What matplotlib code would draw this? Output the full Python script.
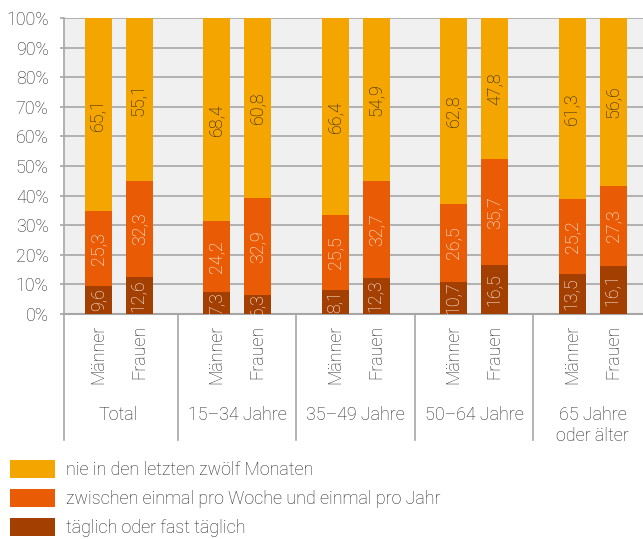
import matplotlib
matplotlib.use('Agg')
import matplotlib.pyplot as plt
from matplotlib.patches import Patch
import numpy as np

# Data (percent)
groups = ['Total', '15–34 Jahre', '35–49 Jahre', '50–64 Jahre', '65 Jahre\noder älter']
sexes = ['Männer', 'Frauen']
series = ['täglich oder fast täglich',
          'zwischen einmal pro Woche und einmal pro Jahr',
          'nie in den letzten zwölf Monaten']

daily = [9.6, 12.6, 7.3, 6.3, 8.1, 12.3, 10.7, 16.5, 13.5, 16.1]
yearly = [25.3, 32.3, 24.2, 32.9, 25.5, 32.7, 26.5, 35.7, 25.2, 27.3]
never = [65.1, 55.1, 68.4, 60.8, 66.4, 54.9, 62.8, 47.8, 61.3, 56.6]

colors = ['#a33f00', '#ea5b05', '#f5a500']
text_colors = ['white', 'white', '#1a1a1a']

plt.rcParams['font.family'] = ['Roboto', 'DejaVu Sans']
plt.rcParams['font.weight'] = 'light'
txt = '#262626'
grid = '#a6a6a6'
fs = 12.9

fig = plt.figure(figsize=(6.43, 5.39), dpi=100)
ax = fig.add_axes([64 / 643, 225 / 539, 579 / 643, 296 / 539])
ax.set_facecolor('#f0f0f0')

offset = 0.173
width = 0.228
xs = []
for g in range(len(groups)):
    xs += [g - offset, g + offset]
xs = np.array(xs)

bottom = np.zeros(len(xs))
for vals, col, tc in zip([daily, yearly, never], colors, text_colors):
    vals = np.array(vals)
    bars = ax.bar(xs, vals, width, bottom=bottom, color=col, zorder=3)
    for rect, x, v, b in zip(bars, xs, vals, bottom):
        t = ax.text(x, b + v / 2, f'{v:.1f}'.replace('.', ','), rotation=90,
                    ha='center', va='center', color=tc, fontsize=fs, zorder=4)
        t.set_clip_path(rect)
    bottom += vals

ax.set_xlim(-0.46, 4.426)
ax.set_ylim(0, 100)
ax.set_yticks(np.arange(0, 101, 10))
ax.set_yticklabels([f'{v}%' for v in range(0, 101, 10)], color=txt, fontsize=fs)
ax.tick_params(axis='y', length=3, width=1.2, color=grid, pad=8)
ax.set_xticks([])
ax.yaxis.grid(True, color=grid, linewidth=1.2, zorder=0)
ax.set_axisbelow(True)
for s in ['top', 'right']:
    ax.spines[s].set_visible(False)
ax.spines['left'].set_color(grid)
ax.spines['left'].set_linewidth(1.2)
ax.spines['bottom'].set_color(grid)
ax.spines['bottom'].set_linewidth(1.5)

# category labels below the axis
trans = ax.get_xaxis_transform()
for i, x in enumerate(xs):
    ax.text(x, -0.037, sexes[i % 2], rotation=90, ha='center', va='top',
            transform=trans, color=txt, fontsize=fs)
for g, name in enumerate(groups):
    ax.text(g, -0.31, name, ha='center', va='top', transform=trans,
            color=txt, fontsize=fs, linespacing=1.25)
for xb in [-0.46, 0.5, 1.5, 2.5, 3.5]:
    ax.plot([xb, xb], [0, -0.426], transform=trans, color=grid,
            linewidth=1.2, clip_on=False)

handles = [Patch(facecolor=c, edgecolor='none') for c in colors[::-1]]
fig.legend(handles, series[::-1], loc='upper left',
           bbox_to_anchor=(3 / 643, 1 - 453 / 539), frameon=False,
           fontsize=fs, handlelength=2.52, handleheight=1.14,
           handletextpad=0.6, labelspacing=0.56, borderaxespad=0,
           labelcolor=txt)

fig.savefig('out.png', dpi=100)
